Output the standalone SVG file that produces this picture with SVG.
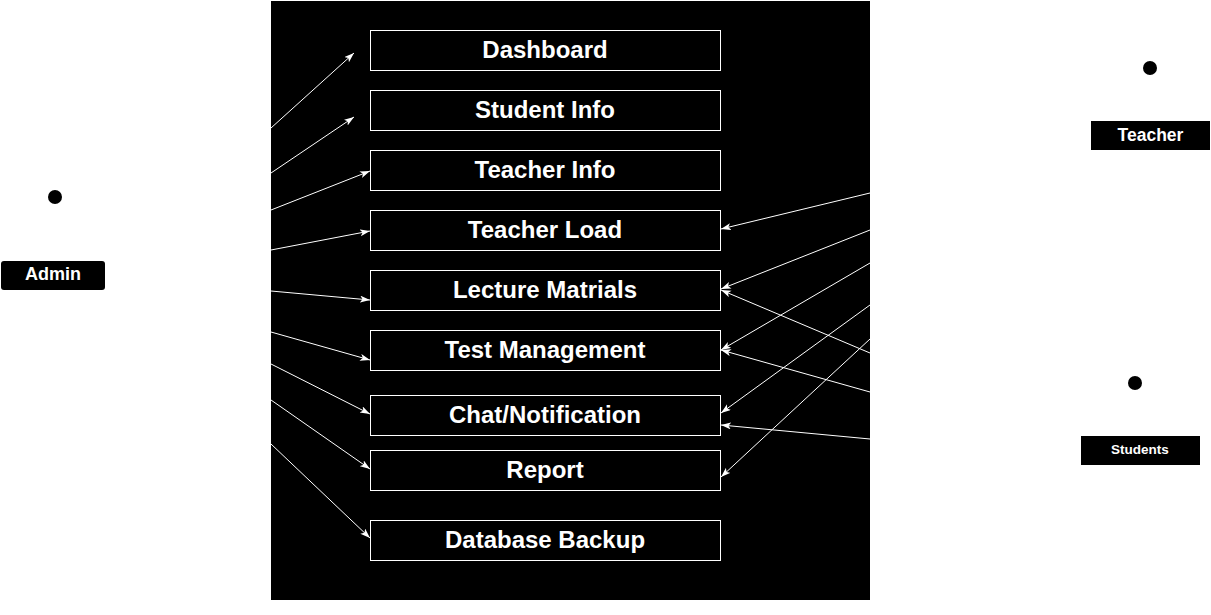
<svg xmlns="http://www.w3.org/2000/svg" width="1211" height="615" viewBox="0 0 1211 615">
<style>
.box{fill:#000;stroke:#fff;stroke-width:1}
.lbl{font-family:"Liberation Sans",Arial,sans-serif;font-weight:bold;font-size:24px;fill:#fff;text-anchor:middle;dominant-baseline:central}
.act{font-family:"Liberation Sans",Arial,sans-serif;font-weight:bold;fill:#fff;text-anchor:middle;dominant-baseline:central}
.conn line{stroke:#fff;stroke-width:1;marker-end:url(#ah)}
</style>
<defs>
<marker id="ah" markerUnits="userSpaceOnUse" markerWidth="11" markerHeight="8" refX="10" refY="3.5" orient="auto">
<path d="M0,0 L10,3.5 L0,7 L2.5,3.5 z" fill="#fff"/>
</marker>
</defs>
<rect x="0" y="0" width="1211" height="615" fill="#fff"/>
<rect id="system" x="271" y="1" width="599" height="599" fill="#000"/>

<g id="admin">
<circle cx="55" cy="197" r="7" fill="#000"/>
<rect x="1" y="261" width="104" height="29" rx="3" fill="#000"/>
<text class="act" x="53" y="274" font-size="18">Admin</text>
</g>
<g id="teacher">
<circle cx="1150" cy="68" r="7" fill="#000"/>
<rect x="1091" y="121" width="119" height="29" fill="#000"/>
<text class="act" x="1150.5" y="134.5" font-size="17.5">Teacher</text>
</g>
<g id="students">
<circle cx="1135" cy="383" r="7" fill="#000"/>
<rect x="1081" y="436" width="119" height="29" fill="#000"/>
<text class="act" x="1140" y="449.5" font-size="13.5">Students</text>
</g>

<g id="uc-dashboard"><rect class="box" x="370.5" y="30.5" width="350" height="40"/><text class="lbl" x="545" y="49.5">Dashboard</text></g>
<g id="uc-studentinfo"><rect class="box" x="370.5" y="90.5" width="350" height="40"/><text class="lbl" x="545" y="109.5">Student Info</text></g>
<g id="uc-teacherinfo"><rect class="box" x="370.5" y="150.5" width="350" height="40"/><text class="lbl" x="545" y="169.5">Teacher Info</text></g>
<g id="uc-teacherload"><rect class="box" x="370.5" y="210.5" width="350" height="40"/><text class="lbl" x="545" y="229.5">Teacher Load</text></g>
<g id="uc-lecture"><rect class="box" x="370.5" y="270.5" width="350" height="40"/><text class="lbl" x="545" y="289.5">Lecture Matrials</text></g>
<g id="uc-test"><rect class="box" x="370.5" y="330.5" width="350" height="40"/><text class="lbl" x="545" y="349.5">Test Management</text></g>
<g id="uc-chat"><rect class="box" x="370.5" y="395.5" width="350" height="40"/><text class="lbl" x="545" y="414.5">Chat/Notification</text></g>
<g id="uc-report"><rect class="box" x="370.5" y="450.5" width="350" height="40"/><text class="lbl" x="545" y="469.5">Report</text></g>
<g id="uc-backup"><rect class="box" x="370.5" y="520.5" width="350" height="40"/><text class="lbl" x="545" y="539.5">Database Backup</text></g>

<g id="connectors" class="conn">
<line x1="271" y1="128" x2="354" y2="53"/>
<line x1="271" y1="173" x2="354" y2="117"/>
<line x1="271" y1="210" x2="370" y2="171"/>
<line x1="271" y1="250" x2="370" y2="231"/>
<line x1="271" y1="291" x2="370" y2="300"/>
<line x1="271" y1="332" x2="370" y2="360"/>
<line x1="271" y1="364" x2="370" y2="414"/>
<line x1="271" y1="400" x2="370" y2="469"/>
<line x1="271" y1="444" x2="370" y2="538"/>
<line x1="870" y1="193" x2="721" y2="229"/>
<line x1="870" y1="230" x2="721" y2="289"/>
<line x1="870" y1="263" x2="721" y2="350"/>
<line x1="870" y1="305" x2="721" y2="413"/>
<line x1="870" y1="339" x2="721" y2="477"/>
<line x1="870" y1="353" x2="721" y2="290"/>
<line x1="870" y1="392" x2="721" y2="350"/>
<line x1="870" y1="439" x2="721" y2="425"/>
</g>
</svg>
